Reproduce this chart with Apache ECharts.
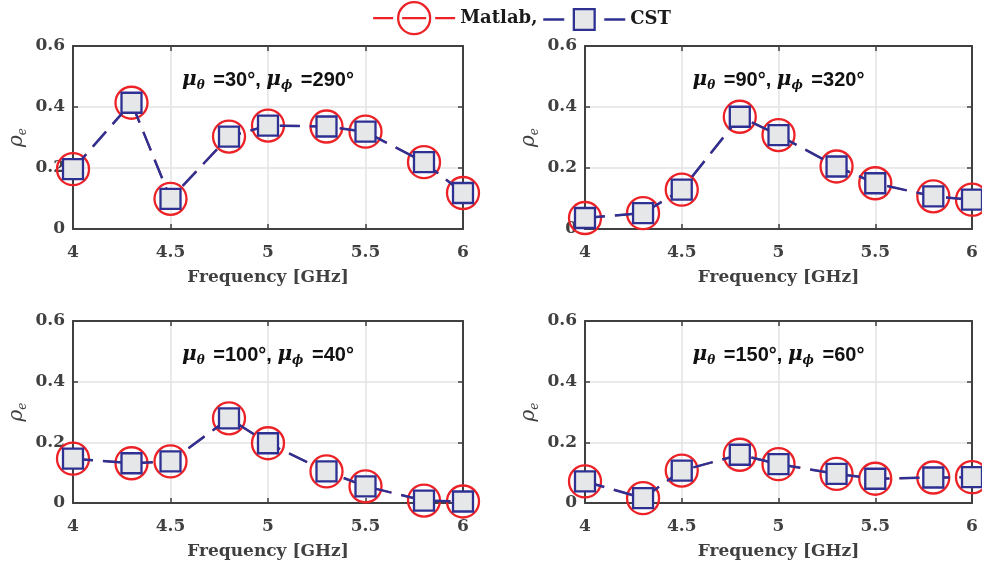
<!DOCTYPE html>
<html>
<head>
<meta charset="UTF-8">
<title>rho_e vs frequency</title>
<style>
  html, body { margin: 0; padding: 0; background: #fff; }
  #chart { width: 982px; height: 567px; }
</style>
</head>
<body>
<div id="chart"></div>
<script src="https://cdn.jsdelivr.net/npm/echarts@6/dist/echarts.min.js"></script>
<script>
var freq = [4, 4.3, 4.5, 4.8, 5, 5.3, 5.5, 5.8, 6];

// Matlab results, one array per panel
var matlab1 = [0.196, 0.414, 0.099, 0.303, 0.339, 0.336, 0.319, 0.219, 0.118];
var matlab2 = [0.036, 0.052, 0.129, 0.368, 0.308, 0.205, 0.150, 0.107, 0.096];
var matlab3 = [0.146, 0.131, 0.137, 0.279, 0.197, 0.104, 0.055, 0.008, 0.005];
var matlab4 = [0.071, 0.016, 0.107, 0.159, 0.128, 0.096, 0.080, 0.084, 0.085];

// CST results (sit right on top of the Matlab points)
var cst1 = [0.196, 0.414, 0.099, 0.303, 0.339, 0.336, 0.319, 0.219, 0.118];
var cst2 = [0.036, 0.052, 0.129, 0.368, 0.308, 0.205, 0.150, 0.107, 0.096];
var cst3 = [0.146, 0.131, 0.137, 0.279, 0.197, 0.104, 0.055, 0.008, 0.005];
var cst4 = [0.071, 0.016, 0.107, 0.159, 0.128, 0.096, 0.080, 0.084, 0.085];

var muTheta = ['30', '90', '100', '150'];
var muPhi = ['290', '320', '40', '60'];

var RED = '#ec2227';
var BLUE = '#2e3192';
var GRAY = '#e6e7e8';
var AXIS = '#404040';
var SERIF = 'DejaVu Serif';

var myChart = echarts.init(document.getElementById('chart'));

var grids = [
    {left: 73, top: 46, width: 390, height: 183},
    {left: 585, top: 46, width: 387, height: 183},
    {left: 73, top: 321, width: 390, height: 182},
    {left: 585, top: 321, width: 387, height: 182}
];
var matlab = [matlab1, matlab2, matlab3, matlab4];
var cst = [cst1, cst2, cst3, cst4];

function pairs(ys) {
    var res = [];
    for (var i = 0; i < freq.length; i++) {
        res.push([freq[i], ys[i]]);
    }
    return res;
}

var boxLine = {show: true, onZero: false, lineStyle: {color: AXIS, width: 2}};
var tick = {show: true, inside: true, length: 5, lineStyle: {color: AXIS, width: 1.5}};
var labelFont = {color: AXIS, fontFamily: SERIF, fontWeight: 'bold', fontSize: 17};

var xAxis = [], yAxis = [], series = [], graphic = [];
for (var i = 0; i < 4; i++) {
    xAxis.push({
        gridIndex: i, type: 'value', min: 4, max: 6, interval: 0.5, position: 'bottom',
        axisLine: boxLine, axisTick: tick,
        axisLabel: Object.assign({margin: 15}, labelFont),
        splitLine: {show: true, lineStyle: {color: '#e3e3e3', width: 1.5}},
        name: 'Frequency [GHz]', nameLocation: 'middle', nameGap: 40,
        nameTextStyle: labelFont
    });
    xAxis.push({
        gridIndex: i, type: 'value', min: 4, max: 6, interval: 0.5, position: 'top',
        axisLine: boxLine, axisTick: tick, axisLabel: {show: false}, splitLine: {show: false}
    });
    yAxis.push({
        gridIndex: i, type: 'value', min: 0, max: 0.6, interval: 0.2, position: 'left',
        axisLine: boxLine, axisTick: tick,
        axisLabel: Object.assign({margin: 8}, labelFont),
        splitLine: {show: true, lineStyle: {color: '#e3e3e3', width: 1.5}},
        name: '{r|ρ}{s|e}', nameLocation: 'middle', nameGap: 44, nameRotate: 90,
        nameTextStyle: {
            rich: {
                r: {fontFamily: SERIF, fontStyle: 'italic', fontSize: 20, color: AXIS, lineHeight: 24},
                s: {fontFamily: SERIF, fontStyle: 'italic', fontSize: 12, color: AXIS, verticalAlign: 'bottom'}
            }
        }
    });
    yAxis.push({
        gridIndex: i, type: 'value', min: 0, max: 0.6, interval: 0.2, position: 'right',
        axisLine: boxLine, axisTick: tick, axisLabel: {show: false}, splitLine: {show: false}
    });

    // red Matlab line lies under the identical blue CST one, only the circles show
    series.push({
        name: 'Matlab', type: 'line', xAxisIndex: 2 * i, yAxisIndex: 2 * i,
        data: pairs(matlab[i]),
        symbol: 'circle', symbolSize: 32,
        itemStyle: {color: 'rgba(0,0,0,0)', borderColor: RED, borderWidth: 2.3},
        lineStyle: {color: RED, width: 2, type: [20, 10]},
        z: 2
    });
    series.push({
        name: 'CST', type: 'line', xAxisIndex: 2 * i, yAxisIndex: 2 * i,
        data: pairs(cst[i]),
        symbol: 'rect', symbolSize: 20,
        itemStyle: {color: GRAY, borderColor: BLUE, borderWidth: 2.3},
        lineStyle: {color: BLUE, width: 2.5, type: [20, 10]},
        z: 3
    });

    graphic.push({
        type: 'text',
        x: grids[i].left + grids[i].width / 2,
        y: grids[i].top + 34,
        z: 10,
        style: {
            text: '{mu|μ}{sub|θ}{eq| =' + muTheta[i] + '°, }{mu|μ}{sub|ϕ}{eq| =' + muPhi[i] + '°}',
            align: 'center',
            verticalAlign: 'middle',
            rich: {
                mu: {fontFamily: SERIF, fontStyle: 'italic', fontWeight: 'bold', fontSize: 20, fill: '#111', lineHeight: 24},
                sub: {fontFamily: SERIF, fontStyle: 'italic', fontWeight: 'bold', fontSize: 12, fill: '#111', verticalAlign: 'bottom', padding: [0, 3, 0, 0]},
                eq: {fontFamily: 'Liberation Sans', fontWeight: 'bold', fontSize: 20, fill: '#111', lineHeight: 24}
            }
        }
    });
}

var legendText = {fontFamily: SERIF, fontWeight: 'bold', fontSize: 18, color: '#1a1a1a'};

option = {
    backgroundColor: '#fff',
    animation: false,
    grid: grids,
    xAxis: xAxis,
    yAxis: yAxis,
    legend: [{
        data: [{
            name: 'Matlab',
            itemStyle: {color: 'rgba(0,0,0,0)', borderColor: RED, borderWidth: 2.3},
            lineStyle: {color: RED, width: 2.3, type: [20, 9, 24, 9, 20]}
        }],
        left: 372, top: 1, padding: 0,
        itemWidth: 82, itemHeight: 40,
        selectedMode: false,
        formatter: function (name) { return name + ','; },
        textStyle: legendText
    }, {
        data: [{
            name: 'CST',
            itemStyle: {color: GRAY, borderColor: BLUE, borderWidth: 2.3},
            lineStyle: {color: BLUE, width: 2.5, type: [21, 40, 21]}
        }],
        left: 542, top: 8, padding: 0,
        itemWidth: 82, itemHeight: 26,
        selectedMode: false,
        textStyle: legendText
    }],
    graphic: graphic,
    series: series
};
myChart.setOption(option);
</script>
</body>
</html>
